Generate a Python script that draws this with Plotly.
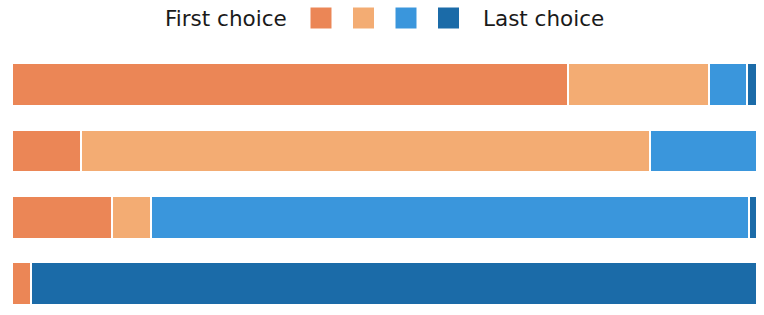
import plotly.graph_objects as go

categories = ["Q1", "Q2", "Q3", "Q4"]
series_names = ["Rank 1", "Rank 2", "Rank 3", "Rank 4"]
rank1 = [74.6, 9.3, 13.4, 2.6]
rank2 = [18.9, 76.3, 5.2, 0.0]
rank3 = [5.1, 14.4, 80.3, 0.0]
rank4 = [1.4, 0.0, 1.1, 97.4]
colors = ["#EB8656", "#F3AC73", "#3A96DC", "#1B6BA8"]
legend_left_label = "First choice"
legend_right_label = "Last choice"

W, H = 764, 315
ML, MR, MT, MB = 12, 7, 52, 0
PW, PH = W - ML - MR, H - MT - MB


def px_x(px):
    return (px - ML) / PW


def px_y(py):
    return (H - MB - py) / PH


fig = go.Figure()
for name, vals, col in zip(series_names, [rank1, rank2, rank3, rank4], colors):
    fig.add_trace(go.Bar(
        y=categories, x=vals, name=name, orientation="h",
        marker=dict(color=col, line=dict(color="white", width=2)),
        showlegend=False, hoverinfo="x",
    ))

# legend swatches
sw_size = 21
sw_start = 321
sw_step = 42.5
sw_cy = 18
shapes = []
for i, col in enumerate(colors):
    cx = sw_start + i * sw_step
    shapes.append(dict(
        type="rect", xref="paper", yref="paper",
        x0=px_x(cx - sw_size / 2), x1=px_x(cx + sw_size / 2),
        y0=px_y(sw_cy + sw_size / 2), y1=px_y(sw_cy - sw_size / 2),
        fillcolor=col, line=dict(width=0),
    ))

font = dict(family="DejaVu Sans", size=21.5, color="#1a1a1a")
annotations = [
    dict(text=legend_left_label, xref="paper", yref="paper",
         x=px_x(289), y=px_y(sw_cy), xanchor="right", yanchor="middle",
         showarrow=False, font=font),
    dict(text=legend_right_label, xref="paper", yref="paper",
         x=px_x(481), y=px_y(sw_cy), xanchor="left", yanchor="middle",
         showarrow=False, font=font),
]

fig.update_layout(
    barmode="stack",
    bargap=0.359,
    width=W, height=H,
    margin=dict(l=ML, r=MR, t=MT, b=MB, pad=0),
    paper_bgcolor="white", plot_bgcolor="white",
    xaxis=dict(range=[0, 100], visible=False, fixedrange=True),
    yaxis=dict(range=[3.474, -0.493], visible=False, fixedrange=True),
    shapes=shapes,
    annotations=annotations,
)

fig.write_html(
    "out.html",
    config={"displayModeBar": False},
    post_script="document.body.style.margin='0';document.body.style.overflow='hidden';",
)
